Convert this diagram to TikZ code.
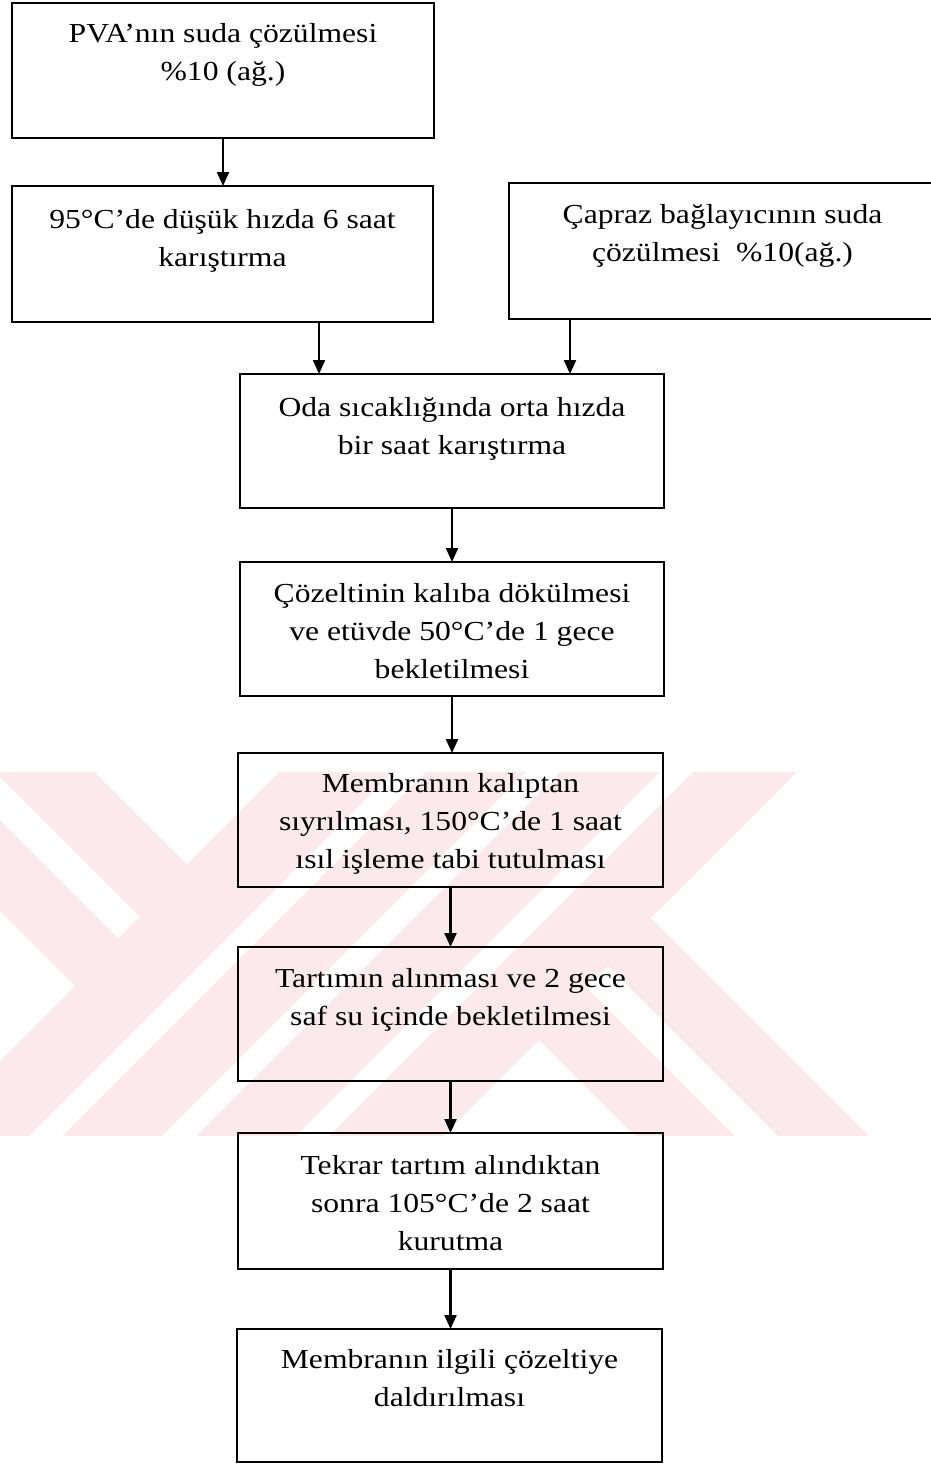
\documentclass[tikz,border=0pt]{standalone}
\usepackage{fontspec}
\setmainfont{Liberation Serif}[FakeStretch=1.15]
\usetikzlibrary{arrows.meta,calc}
\definecolor{wm}{RGB}{252,233,237}
\begin{document}
\begin{tikzpicture}[x=1pt,y=-1pt,
  box/.style={draw=black,line width=2.7pt,rectangle,inner sep=0pt,outer sep=0pt},
  txt/.style={align=center,font=\fontsize{27.5}{38}\selectfont,inner sep=0pt},
  arr/.style={line width=2.2pt,-{Triangle[length=14pt,width=12pt]}}]
\useasboundingbox (0,0) rectangle (931,1464);
\clip (0,0) rectangle (931,1464);
% watermark
\fill[wm] (-139,772) -- (797,772) -- (651,918) -- (869,1136) -- (-75,1136) -- (75,986) -- cycle;
\fill[white] (95,772) -- (187,864) -- (279,772) -- cycle;
\fill[white] (443,1136) -- (539,1040) -- (635,1136) -- cycle;
\fill[white] (-60,717) -- (139.5,916.5) -- (118,938) -- (-60,760) -- cycle;
\fill[white] (786,1187) -- (586.5,987.5) -- (608,966) -- (786,1144) -- cycle;
\fill[white] (393,772) -- (426,772) -- (62,1136) -- (29,1136) -- cycle;
\fill[white] (526,772) -- (560,772) -- (196,1136) -- (162,1136) -- cycle;
\fill[white] (660,772) -- (693,772) -- (329,1136) -- (296,1136) -- cycle;
% boxes
\node[box,minimum width=422pt,minimum height=135pt] (a) at (223,70.5) {};
\node[box,minimum width=421pt,minimum height=136pt] (b) at (222.5,254) {};
\node[box,minimum width=427pt,minimum height=136pt] (c) at (722.5,251) {};
\node[box,minimum width=424pt,minimum height=134pt] (d) at (452,441) {};
\node[box,minimum width=424pt,minimum height=134pt] (e) at (452,629) {};
\node[box,minimum width=425pt,minimum height=134pt] (f) at (450.5,820) {};
\node[box,minimum width=425pt,minimum height=134pt] (g) at (450.5,1014) {};
\node[box,minimum width=425pt,minimum height=136pt] (h) at (450.5,1201) {};
\node[box,minimum width=425pt,minimum height=133pt] (i) at (449.5,1395.5) {};
% texts (base anchor = baseline of last line)
\node[txt,anchor=base] (ta) at ([yshift=-78pt]a.north) {PVA’nın suda çözülmesi\\\%10 (ağ.)};
\node[txt,anchor=base] (tb) at ([yshift=-80pt]b.north) {95°C’de düşük hızda 6 saat\\karıştırma};
\node[txt,anchor=base] (tc) at ([yshift=-78pt]c.north) {Çapraz bağlayıcının suda\\çözülmesi~ \%10(ağ.)};
\node[txt,anchor=base] (td) at ([yshift=-80pt]d.north) {Oda sıcaklığında orta hızda\\bir saat karıştırma};
\node[txt,anchor=base] (te) at ([yshift=-116pt]e.north) {Çözeltinin kalıba dökülmesi\\ve etüvde 50°C’de 1 gece\\bekletilmesi};
\node[txt,anchor=base] (tf) at ([yshift=-115pt]f.north) {Membranın kalıptan\\sıyrılması, 150°C’de 1 saat\\ısıl işleme tabi tutulması};
\node[txt,anchor=base] (tg) at ([yshift=-78pt]g.north) {Tartımın alınması ve 2 gece\\saf su içinde bekletilmesi};
\node[txt,anchor=base] (th) at ([yshift=-117pt]h.north) {Tekrar tartım alındıktan\\sonra 105°C’de 2 saat\\kurutma};
\node[txt,anchor=base] (ti) at ([yshift=-77pt]i.north) {Membranın ilgili çözeltiye\\daldırılması};
% arrows
\draw[arr] (a.south) -- (a.south |- b.north);
\draw[arr] ([xshift=96.5pt]b.south) coordinate (s1) -- (s1 |- d.north);
\draw[arr] ([xshift=-152.5pt]c.south) coordinate (s2) -- (s2 |- d.north);
\draw[arr] (d.south) -- (d.south |- e.north);
\draw[arr] (e.south) -- (e.south |- f.north);
\draw[arr] (f.south) -- (f.south |- g.north);
\draw[arr] (g.south) -- (g.south |- h.north);
\draw[arr] (h.south) -- (h.south |- i.north);
\end{tikzpicture}
\end{document}
